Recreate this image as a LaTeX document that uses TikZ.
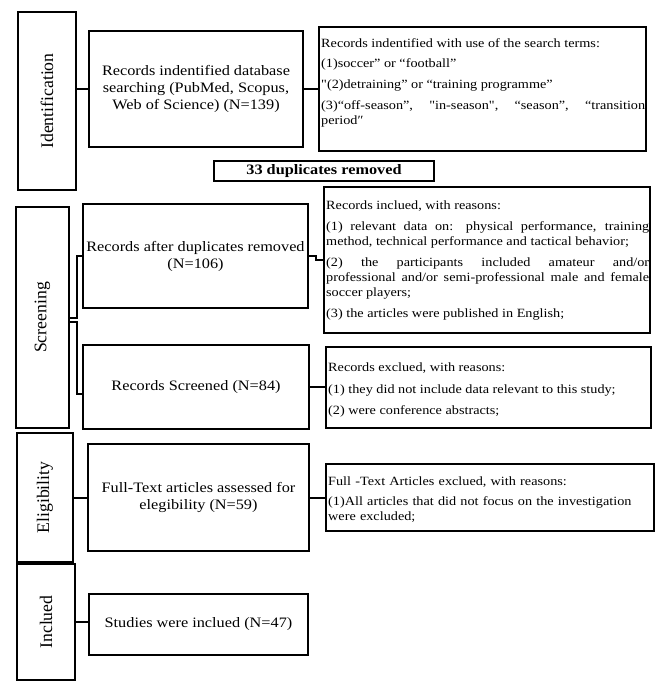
\documentclass[tikz,border=0pt]{standalone}
\usepackage{fontspec}
\setmainfont[FakeStretch=1.13]{Liberation Serif}
\newfontfamily\labelfont{Liberation Serif}
\font\qfont="Liberation Serif:extend=1.13" at 12.6pt
\newcommand{\sq}{{\qfont\char34}}
\usetikzlibrary{fit,calc}
\begin{document}
\begin{tikzpicture}[x=1pt,y=-1pt,
  frame/.style={draw=black, line width=2.2pt, inner sep=0pt, outer sep=0pt},
  stagelbl/.style={rotate=90, font=\labelfont\fontsize{17.7}{20}\selectfont, inner sep=0pt},
  maintxt/.style={align=center, font=\fontsize{14.4}{17}\selectfont, inner sep=0pt},
  sidetxt/.style={anchor=north west, inner sep=0pt, align=justify, font=\fontsize{12.6}{15}\selectfont},
  link/.style={draw=black, line width=2pt}
]
\useasboundingbox (0,0) rectangle (668,687);

% stage boxes
\node[frame, fit={(18,12)(76,190)}] (ident) {};
\node[stagelbl] (identl) at (ident.center) {Identification};
\node[frame, fit={(16,207)(69,428)}] (screen) {};
\node[stagelbl] (screenl) at (screen.center) {Screening};
\node[frame, fit={(17,433)(73,562)}] (elig) {};
\node[stagelbl] (eligl) at (elig.center) {Eligibility};
\node[frame, fit={(17,564)(75,680)}] (inclst) {};
\node[stagelbl] (inclstl) at (inclst.center) {Inclued};

% main boxes
\node[frame, fit={(89,31)(303,147)}] (box1) {};
\node[maintxt] (box1t) at (box1.center) {Records indentified database\\searching (PubMed, Scopus,\\Web of Science) (N=139)};
\node[frame, fit={(214,161)(434,181)}] (dup) {};
\node[maintxt, font=\bfseries\fontsize{14.4}{17}\selectfont] (dupt) at (dup.center) {33 duplicates removed};
\node[frame, fit={(83,204)(308,308)}] (afterdup) {};
\node[maintxt] (afterdupt) at (afterdup.center) {Records after duplicates removed\\(N=106)};
\node[frame, fit={(83,345)(309,429)}] (screened) {};
\node[maintxt] (screenedt) at (screened.center) {Records Screened (N=84)};
\node[frame, fit={(88,444)(309,551)}] (ft) {};
\node[maintxt] (ftt) at (ft.center) {Full-Text articles assessed for\\elegibility (N=59)};
\node[frame, fit={(89,594)(308,655)}] (studies) {};
\node[maintxt] (studiest) at (studies.center) {Studies were inclued (N=47)};

% side boxes
\node[frame, fit={(319,27)(646,151)}] (terms) {};
\node[sidetxt, text width=324pt] (termst) at ($(terms.north west)+(2,11)$)
{\parindent=0pt\parskip=5.8pt Records indentified with use of the search terms:\par
(1)soccer” or “football”\par
\sq(2)detraining” or “training programme”\par
(3)“off-season”, \sq in-season\sq, “season”, “transition\linebreak period″\par};

\node[frame, fit={(324,187)(650,333)}] (incl) {};
\node[sidetxt, text width=323pt] (inclt) at ($(incl.north west)+(2,14)$)
{\parindent=0pt\parskip=6pt Records inclued, with reasons:\par
(1) relevant data on: physical performance, training\linebreak method, technical performance and tactical behavior;\par
(2) the participants included amateur and/or\linebreak professional and/or semi-professional male and female\linebreak soccer players;\par
(3) the articles were published in English;\par};

\node[frame, fit={(326,347)(651,428)}] (excl) {};
\node[sidetxt, text width=322pt] (exclt) at ($(excl.north west)+(2,16)$)
{\parindent=0pt\parskip=6.5pt Records exclued, with reasons:\par
(1) they did not include data relevant to this study;\par
(2) were conference abstracts;\par};

\node[frame, fit={(326,464)(654,531)}] (ftex) {};
\node[sidetxt, align=left, text width=325pt] (ftext) at ($(ftex.north west)+(2,13)$)
{\parindent=0pt\parskip=5pt Full -Text Articles exclued, with reasons:\par
(1)All articles that did not focus on the investigation\\were excluded;\par};

% connectors
\coordinate (sj) at (77,0);
\draw[link] (ident.east |- box1.west) -- (box1.west);
\draw[link] (box1.east) -- (box1.east -| terms.west);
\draw[link] (screen.east) -- (sj |- screen.east) |- (afterdup.west);
\draw[link] ($(screen.east)+(0,4)$) -- ($(sj |- screen.east)+(0,4)$) -- ($(sj |- screened.west)+(0,7)$) -- ($(screened.west)+(0,7)$);
\draw[link] (afterdup.east) -- ++(8,0) |- (incl.west);
\draw[link] (screened.east) -- (screened.east -| excl.west);
\draw[link] (elig.east) -- (elig.east -| ft.west);
\draw[link] (ft.east) -- (ft.east -| ftex.west);
\draw[link] (inclst.east) -- (inclst.east -| studies.west);
\end{tikzpicture}
\end{document}
